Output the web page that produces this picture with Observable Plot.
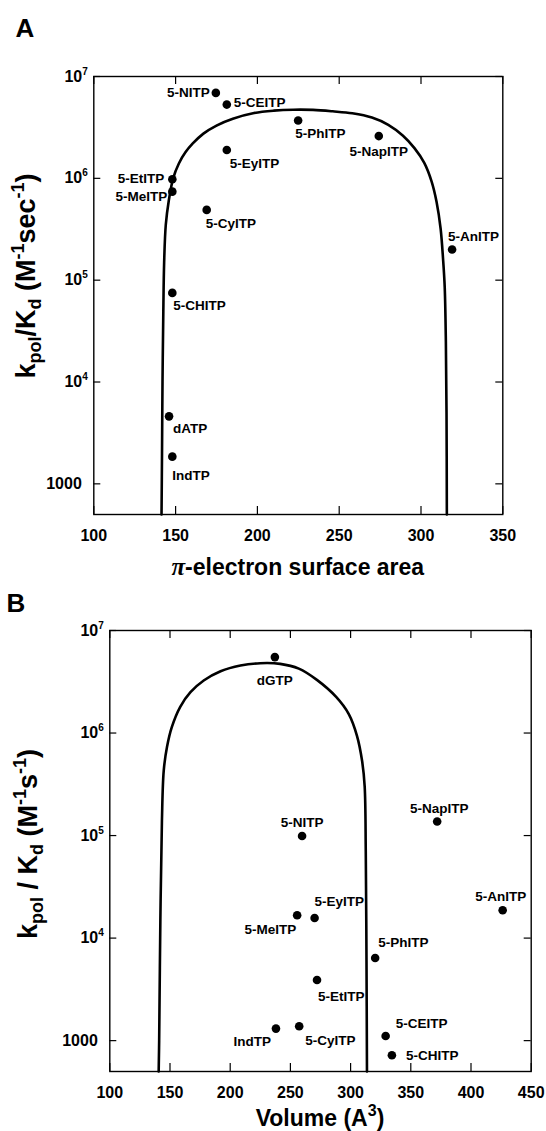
<!DOCTYPE html>
<html><head><meta charset="utf-8">
<script src="https://cdn.jsdelivr.net/npm/d3@7"></script>
<script src="https://cdn.jsdelivr.net/npm/@observablehq/plot@0.6"></script>
<style>
body{margin:0;background:#fff;width:546px;height:1131px;overflow:hidden;font-family:"Liberation Sans",Arial,Helvetica,sans-serif;}
#chart svg{display:block}
</style></head><body><div id="chart"></div>
<script>
// ---------- Panel A data ----------
const namesA = ["5-NITP","5-CEITP","5-PhITP","5-NapITP","5-EyITP","5-EtITP","5-MeITP","5-CyITP","5-AnITP","5-CHITP","dATP","IndTP"];
const areaA  = [174.6,181.3,224.9,274.2,181.3,148,148,169,319,148,146,148];
const effA   = [6.9e6,5.3e6,3.7e6,2.6e6,1.9e6,9.8e5,7.4e5,4.9e5,2.0e5,7.5e4,4.6e3,1.85e3];
const curveAX = [141.4,141.7,142.0,142.5,143.0,144.0,145.8,148.5,152,156,160.5,167,175,185,198,210,222,234,246,258,270,280,289,296,302,306.5,309.5,312,313.5,314.5,315.2,315.6,315.8];
const curveAY = [500,2e3,1e4,5e4,1.5e5,3.5e5,6e5,1e6,1.4e6,1.8e6,2.2e6,2.75e6,3.3e6,3.85e6,4.38e6,4.62e6,4.72e6,4.7e6,4.55e6,4.35e6,3.95e6,3.35e6,2.62e6,1.98e6,1.42e6,9.3e5,5.9e5,3.2e5,1.6e5,8.5e4,2.5e4,5e3,500];
const xTicksA = [100,150,200,250,300,350];

// ---------- Panel B data ----------
const namesB = ["dGTP","5-NITP","5-NapITP","5-AnITP","5-MeITP","5-EyITP","5-PhITP","5-EtITP","IndTP","5-CyITP","5-CEITP","5-CHITP"];
const volB   = [237.1,259.7,371.9,426.3,255.6,270.1,320.4,272.1,238,257.3,329.1,334.3];
const effB   = [5.5e6,9.9e4,1.37e5,1.87e4,1.67e4,1.57e4,6.4e3,3.9e3,1.31e3,1.38e3,1.11e3,7.2e2];
const curveBX = [140.6,141.0,142.0,143.3,144.8,147.5,151.5,158.5,167,178,192,208.5,225,241.5,257,272,288,298.5,305.3,309.6,311.7,312.6,313.2,313.6];
const curveBY = [500,1000,1.5e4,1.4e5,4.3e5,7.3e5,1.14e6,1.8e6,2.5e6,3.25e6,4.0e6,4.55e6,4.8e6,4.73e6,4.25e6,3.3e6,2.25e6,1.53e6,9.4e5,5.3e5,3.0e5,7e4,6e3,500];
const xTicksB = [100,150,200,250,300,350,400,450];

const yTicks = [1000,1e4,1e5,1e6,1e7];

// label placement (anchor, dx, dy)
const placeA = {"5-NITP":["end",-6,0],"5-CEITP":["start",7,-2],"5-PhITP":["start",-3,13],"5-NapITP":["middle",0,16],
  "5-EyITP":["start",3,14],"5-EtITP":["end",-8,-1],"5-MeITP":["end",-5,5],"5-CyITP":["start",-1,14],
  "5-AnITP":["start",-4,-13],"5-CHITP":["start",1,13],"dATP":["start",4,12],"IndTP":["start",0,19]};
const placeB = {"dGTP":["middle",0,24],"5-NITP":["middle",0,-13],"5-NapITP":["middle",2,-13],"5-AnITP":["middle",-2,-14],
  "5-MeITP":["end",-1,14],"5-EyITP":["start",0,-16],"5-PhITP":["start",3,-15],"5-EtITP":["start",1,17],
  "IndTP":["end",-5,13],"5-CyITP":["start",6,14],"5-CEITP":["start",10,-12],"5-CHITP":["start",14,0]};

const FONT = "Liberation Sans, Arial, Helvetica, sans-serif";
const ns = "http://www.w3.org/2000/svg";

function panel(cfg) {
  const data = cfg.names.map((n,i)=>({name:n, x:cfg.xs[i], y:cfg.ys[i]}));
  const curve = cfg.cx.map((x,i)=>({x, y:cfg.cy[i]}));
  const plotW = cfg.width - cfg.ml - cfg.mr;
  const plotH = cfg.height - cfg.mt - cfg.mb;
  const labels = cfg.names.map(n => Plot.text(data.filter(d=>d.name===n), {
    x:"x", y:"y", text:"name", textAnchor: cfg.place[n][0], dx: cfg.place[n][1], dy: cfg.place[n][2],
    fontSize: 13.5, fontWeight: "bold", fill: "black"}));
  const svg = Plot.plot({
    width: cfg.width, height: cfg.height,
    marginTop: cfg.mt, marginBottom: cfg.mb, marginLeft: cfg.ml, marginRight: cfg.mr,
    style: {fontFamily: FONT, fontSize: "16px", fontWeight: "bold", color: "black", background: "white", overflow: "visible"},
    x: {type: "linear", domain: cfg.xDomain},
    y: {type: "log", domain: [500, 1e7]},
    marks: [
      Plot.frame({stroke: "black", strokeWidth: 1.4}),
      Plot.tickX(cfg.xTicks, {x: d=>d, insetTop: plotH - 8, stroke: "black", strokeWidth: 1.2}),
      Plot.tickX(cfg.xTicks, {x: d=>d, insetBottom: plotH - 8, stroke: "black", strokeWidth: 1.2}),
      Plot.tickY(yTicks, {y: d=>d, insetRight: plotW - 7, stroke: "black", strokeWidth: 1.2}),
      Plot.tickY(yTicks, {y: d=>d, insetLeft: plotW - 7, stroke: "black", strokeWidth: 1.2}),
      Plot.axisX({ticks: cfg.xTicks, tickSize: 0, tickPadding: 15, label: null, fontSize: 16, fontWeight: "bold"}),
      Plot.axisY({ticks: yTicks, tickSize: 0, tickPadding: 12, label: null, fontSize: 16, fontWeight: "bold",
        tickFormat: d => d >= 1e4 ? "10^" + Math.round(Math.log10(d)) : String(d)}),
      Plot.line(curve, {x:"x", y:"y", stroke: "black", strokeWidth: 2.6, curve: "catmull-rom"}),
      Plot.dot(data, {x:"x", y:"y", r: 4.3, fill: "black", stroke: "none"}),
      ...labels
    ]
  });
  // superscript tick labels
  svg.querySelectorAll('g[aria-label="y-axis tick label"] text').forEach(t => {
    const s = t.textContent;
    if (s.startsWith("10^")) {
      const e = s.slice(3);
      t.textContent = "";
      const a = document.createElementNS(ns, "tspan"); a.textContent = "10";
      const b = document.createElementNS(ns, "tspan"); b.textContent = e;
      b.setAttribute("dy", "-7"); b.setAttribute("font-size", "10");
      t.append(a, b);
      t.setAttribute("dx", "6");
    }
  });
  const sel = d3.select(svg);
  // panel letter
  sel.append("text").attr("x", cfg.letterX).attr("y", cfg.letterY).attr("font-size", 26).attr("font-weight", "bold")
    .attr("font-family", FONT).attr("fill", "black").text(cfg.letter);
  // x title
  const xt = sel.append("text").attr("x", cfg.ml + plotW/2).attr("y", cfg.xTitleY).attr("text-anchor", "middle")
    .attr("font-size", 23).attr("font-weight", "bold").attr("font-family", FONT).attr("fill", "black");
  cfg.xTitle(xt);
  // y title
  const yt = sel.append("text").attr("transform", `translate(${cfg.yTitleX},${cfg.yTitleY}) rotate(-90)`)
    .attr("text-anchor", "middle").attr("font-size", 27).attr("font-weight", "bold").attr("font-family", FONT).attr("fill", "black");
  for (const [txt, size, dy] of cfg.yParts) {
    const ts = yt.append("tspan").text(txt);
    if (size) ts.attr("font-size", size);
    if (dy) ts.attr("dy", dy);
  }
  return svg;
}

const root = document.getElementById("chart");

root.appendChild(panel({
  names: namesA, xs: areaA, ys: effA, cx: curveAX, cy: curveAY, place: placeA,
  width: 546, height: 582, mt: 76, mb: 68, ml: 93.3, mr: 43.7,
  xDomain: [100, 350], xTicks: xTicksA,
  letter: "A", letterX: 25, letterY: 37,
  xTitleY: 575,
  xTitle: t => { t.append("tspan").attr("font-family", "Liberation Serif, serif").attr("font-style", "italic").attr("font-size", 25).text("π");
                 t.append("tspan").text("-electron surface area"); },
  yTitleX: 35, yTitleY: 276,
  yParts: [["k",null,null],["pol",18,6],["/K",null,-6],["d",18,6],[" (M",null,-6],["-1",18,-11],["sec",null,11],["-1",18,-11],[")",null,11]]
}));

root.appendChild(panel({
  names: namesB, xs: volB, ys: effB, cx: curveBX, cy: curveBY, place: placeB,
  width: 546, height: 549, mt: 48, mb: 60, ml: 109.3, mr: 15.3,
  xDomain: [100, 450], xTicks: xTicksB,
  letter: "B", letterX: 16, letterY: 30,
  xTitleY: 544,
  xTitle: t => { t.append("tspan").text("Volume (A"); t.append("tspan").attr("font-size", 16).attr("dy", -10).text("3");
                 t.append("tspan").attr("dy", 10).text(")"); },
  yTitleX: 37, yTitleY: 262,
  yParts: [["k",null,null],["pol",18,6],[" / K",null,-6],["d",18,6],[" (M",null,-6],["-1",18,-11],["s",null,11],["-1",18,-11],[")",null,11]]
}));
</script></body></html>
